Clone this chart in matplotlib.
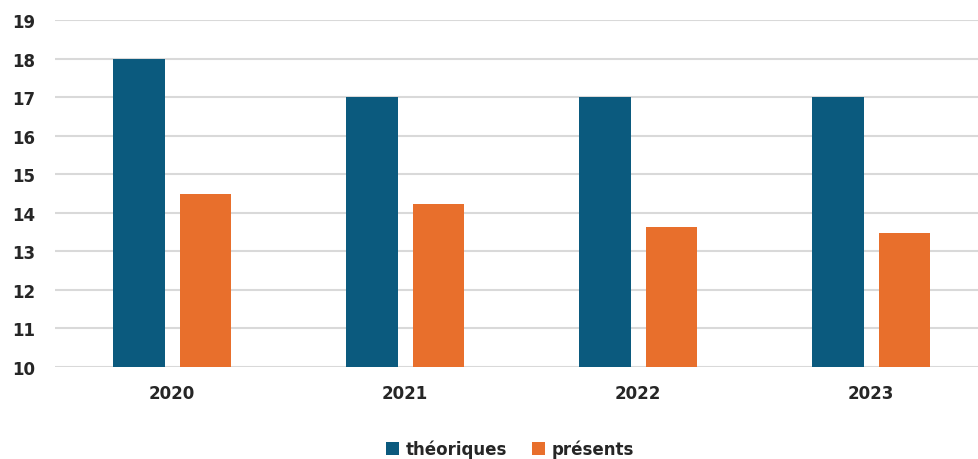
import numpy as np
import matplotlib
matplotlib.use('Agg')
import matplotlib.pyplot as plt

annees = ['2020', '2021', '2022', '2023']
theoriques = [18, 17, 17, 17]
presents = [14.5, 14.22, 13.62, 13.47]

plt.rcParams['font.family'] = ['DejaVu Sans']

fig = plt.figure(figsize=(9.79, 4.6), dpi=100)
ax = fig.add_axes([55 / 979, 92 / 460, (979 - 55) / 979, 347 / 460])

x = np.arange(len(annees))
w = 0.222
ax.bar(x - 0.142, theoriques, width=w, color='#0b5a7e', label='théoriques', zorder=3)
ax.bar(x + 0.144, presents, width=w, color='#e86f2c', label='présents', zorder=3)

ax.set_ylim(10, 19)
ax.set_xlim(-0.502, 3.464)
ax.set_yticks(range(10, 20))
ax.set_xticks(x)
ax.set_xticklabels(annees)
ax.yaxis.grid(True, color='#d9d9d9', linewidth=1.5, zorder=0)
for s in ax.spines.values():
    s.set_visible(False)
ax.tick_params(axis='both', length=0, labelsize=12, colors='#262626')
ax.tick_params(axis='y', pad=14)
ax.tick_params(axis='x', pad=12)
for lab in ax.get_xticklabels() + ax.get_yticklabels():
    lab.set_fontweight('bold')

leg = fig.legend(loc='center', bbox_to_anchor=(510 / 979, 1 - 450 / 460), ncol=2, frameon=False,
                 handlelength=0.75, handleheight=0.75, handletextpad=0.4, columnspacing=1.5,
                 prop={'weight': 'bold', 'size': 12})
for t in leg.get_texts():
    t.set_color('#262626')

fig.savefig('out.png', dpi=100)
